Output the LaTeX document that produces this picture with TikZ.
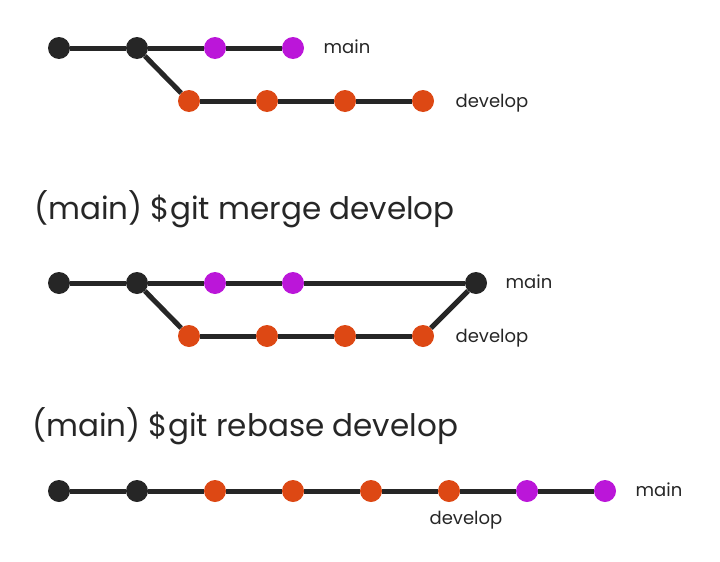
\documentclass[tikz,border=0pt]{standalone}
\usepackage{fontspec}
\setmainfont{Poppins}
\definecolor{cblk}{HTML}{262626}
\definecolor{cpur}{HTML}{BB16D9}
\definecolor{corg}{HTML}{DD4814}
\begin{document}
\begin{tikzpicture}[x=1pt,y=-1pt,
  commit/.style={circle,inner sep=0pt,minimum size=22pt},
  cb/.style={commit,fill=cblk},
  cp/.style={commit,fill=cpur},
  co/.style={commit,fill=corg},
  edge/.style={draw=cblk,line width=5pt},
  lbl/.style={font=\fontsize{18}{21}\selectfont,text=cblk,inner sep=0pt},
  ttl/.style={font=\fontsize{31}{36}\selectfont,text=cblk,inner sep=0pt,anchor=west}]
\useasboundingbox (0,0) rectangle (720,562);
% diagram 1
\node[cb] (a1) at (59,48) {};
\node[cb] (a2) at (137,48) {};
\node[cp] (a3) at (215,48) {};
\node[cp] (a4) at (293,48) {};
\node[co] (b1) at (189,101) {};
\node[co] (b2) at (267,101) {};
\node[co] (b3) at (345,101) {};
\node[co] (b4) at (423,101) {};
\draw[edge] (a1) -- (a2);
\draw[edge] (a2) -- (a3);
\draw[edge] (a3) -- (a4);
\draw[edge] (a2) -- (b1);
\draw[edge] (b1) -- (b2);
\draw[edge] (b2) -- (b3);
\draw[edge] (b3) -- (b4);
\node[lbl] (m1) at (347,47) {main};
\node[lbl] (d1) at (492,103) {develop};
% title 1
\node[ttl] (t1) at (34,209) {(main) \$git merge develop};
% diagram 2
\node[cb] (c1) at (59,283) {};
\node[cb] (c2) at (137,283) {};
\node[cp] (c3) at (215,283) {};
\node[cp] (c4) at (293,283) {};
\node[cb] (c5) at (476,283) {};
\node[co] (e1) at (189,336) {};
\node[co] (e2) at (267,336) {};
\node[co] (e3) at (345,336) {};
\node[co] (e4) at (423,336) {};
\draw[edge] (c1) -- (c2);
\draw[edge] (c2) -- (c3);
\draw[edge] (c3) -- (c4);
\draw[edge] (c4) -- (c5);
\draw[edge] (c2) -- (e1);
\draw[edge] (e1) -- (e2);
\draw[edge] (e2) -- (e3);
\draw[edge] (e3) -- (e4);
\draw[edge] (e4) -- (c5);
\node[lbl] (m2) at (529,282) {main};
\node[lbl] (d2) at (492,338) {develop};
% title 2
\node[ttl] (t2) at (32,426) {(main) \$git rebase develop};
% diagram 3
\node[cb] (r1) at (59,491) {};
\node[cb] (r2) at (137,491) {};
\node[co] (r3) at (215,491) {};
\node[co] (r4) at (293,491) {};
\node[co] (r5) at (371,491) {};
\node[co] (r6) at (449,491) {};
\node[cp] (r7) at (527,491) {};
\node[cp] (r8) at (605,491) {};
\draw[edge] (r1) -- (r2);
\draw[edge] (r2) -- (r3);
\draw[edge] (r3) -- (r4);
\draw[edge] (r4) -- (r5);
\draw[edge] (r5) -- (r6);
\draw[edge] (r6) -- (r7);
\draw[edge] (r7) -- (r8);
\node[lbl] (m3) at (659,490) {main};
\node[lbl] (d3) at (466,520) {develop};
\end{tikzpicture}
\end{document}
